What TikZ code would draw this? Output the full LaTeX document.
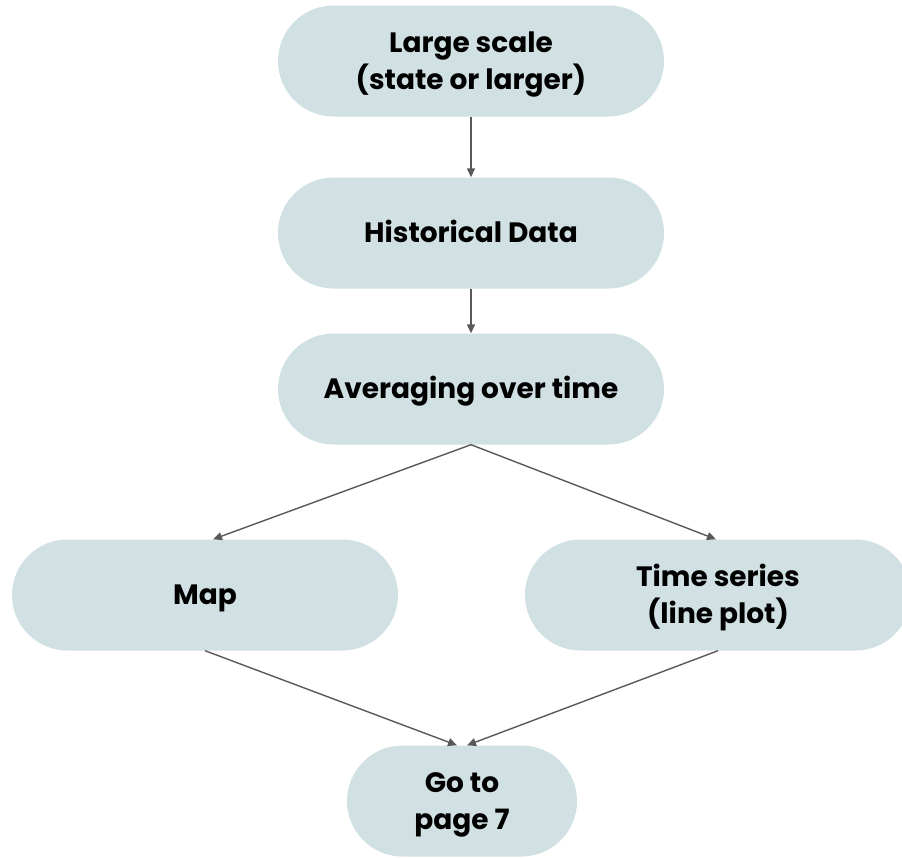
\documentclass[tikz,border=0pt]{standalone}
\usepackage{fontspec}
\setmainfont{Poppins}
\usetikzlibrary{arrows.meta}
\definecolor{boxfill}{HTML}{D0E0E3}
\definecolor{linegray}{HTML}{595959}
\tikzset{
  pill/.style={rectangle, rounded corners=55.5pt, fill=boxfill, minimum height=111pt,
    minimum width=386pt, align=center, inner sep=0pt,
    font=\fontsize{28}{37}\selectfont\bfseries,
    text height=19.6pt, text depth=0pt},
  twoline/.style={text height=56.6pt, text depth=0pt},
  flow/.style={draw=linegray, line width=1.4pt, -{Triangle[length=9pt,width=8pt]}}
}
\begin{document}
\begin{tikzpicture}[x=1pt, y=-1pt]
  \useasboundingbox (0,0) rectangle (902,857);
  % process boxes
  \node[pill, twoline] (scale) at (471,61)  {Large scale\\(state or larger)};
  \node[pill] (hist)  at (471,233) {Historical Data};
  \node[pill] (avg)   at (471,389) {Averaging over time};
  \node[pill] (map)   at (205,595) {Map};
  \node[pill, twoline] (ts) at (718,595) {Time series\\(line plot)};
  \node[pill, twoline, minimum width=230pt] (goto) at (462,801) {Go to\\page 7};
  % connectors
  \draw[flow] (scale.south) -- (hist.north);
  \draw[flow] (hist.south) -- (avg.north);
  \coordinate (mapin) at ([xshift=8pt]map.north);
  \coordinate (tsin)  at ([xshift=-2pt]ts.north);
  \draw[flow] (avg.south) -- (mapin);
  \draw[flow] (avg.south) -- (tsin);
  \coordinate (gotoL) at ([xshift=-5pt]goto.north);
  \coordinate (gotoR) at ([xshift=5pt]goto.north);
  \draw[flow] (map.south) -- (gotoL);
  \draw[flow] (ts.south) -- (gotoR);
\end{tikzpicture}
\end{document}
